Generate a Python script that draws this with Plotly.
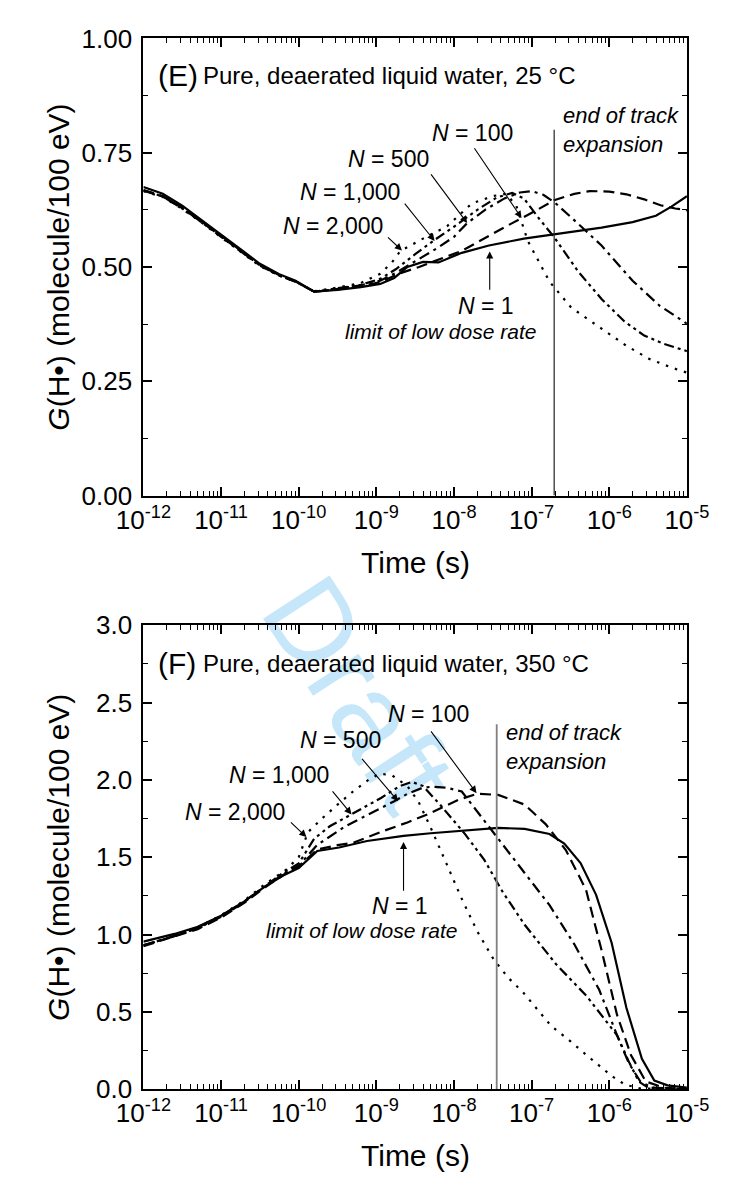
import plotly.graph_objects as go

# ---------------- data (log10 of time in s, G in molecule/100 eV) ----------------
series_names = ["N = 1", "N = 100", "N = 500", "N = 1,000", "N = 2,000"]
tick_exponents = [-12, -11, -10, -9, -8, -7, -6, -5]

# Panel E : 25 C
E_N1_logt = [-12.0, -11.75, -11.5, -11.25, -11.0, -10.75, -10.5, -10.25, -10.04, -9.8, -9.5, -9.2,
             -8.95, -8.77, -8.6, -8.4, -8.2, -7.9, -7.55, -7.1, -6.7, -6.1, -5.7, -5.4, -5.2, -5.0]
E_N1_G = [0.675, 0.660, 0.634, 0.603, 0.571, 0.539, 0.507, 0.484, 0.470, 0.446, 0.450, 0.456,
          0.463, 0.476, 0.500, 0.511, 0.510, 0.531, 0.547, 0.562, 0.571, 0.586, 0.598, 0.612, 0.632, 0.655]

E_N100_logt = [-12.0, -11.75, -11.5, -11.25, -11.0, -10.75, -10.5, -10.25, -10.04, -9.8, -9.5, -9.2,
               -8.95, -8.7, -8.45, -8.17, -7.9, -7.69, -7.45, -7.25, -6.97, -6.71, -6.45, -6.25,
               -6.0, -5.78, -5.55, -5.34, -5.15, -5.0]
E_N100_G = [0.668, 0.655, 0.630, 0.600, 0.568, 0.536, 0.505, 0.482, 0.468, 0.446, 0.451, 0.458,
            0.467, 0.486, 0.500, 0.518, 0.535, 0.555, 0.578, 0.596, 0.621, 0.646, 0.660, 0.666,
            0.665, 0.659, 0.648, 0.635, 0.628, 0.624]

E_N500_logt = [-12.0, -11.75, -11.5, -11.25, -11.0, -10.75, -10.5, -10.25, -10.04, -9.8, -9.5, -9.2,
               -8.95, -8.75, -8.5, -8.2, -8.0, -7.83, -7.6, -7.35, -7.15, -7.0, -6.85, -6.71,
               -6.5, -6.1, -5.7, -5.35, -5.0]
E_N500_G = [0.667, 0.654, 0.629, 0.599, 0.567, 0.535, 0.504, 0.482, 0.468, 0.446, 0.452, 0.460,
            0.470, 0.487, 0.512, 0.543, 0.566, 0.596, 0.625, 0.650, 0.663, 0.666, 0.658, 0.642,
            0.610, 0.547, 0.470, 0.415, 0.376]

E_N1000_logt = [-12.0, -11.75, -11.5, -11.25, -11.0, -10.75, -10.5, -10.25, -10.04, -9.8, -9.5, -9.2,
                -8.95, -8.75, -8.5, -8.26, -8.0, -7.7, -7.45, -7.25, -7.1, -6.9, -6.71, -6.4,
                -6.1, -5.8, -5.55, -5.3, -5.0]
E_N1000_G = [0.668, 0.654, 0.628, 0.598, 0.566, 0.534, 0.503, 0.481, 0.468, 0.446, 0.453, 0.461,
             0.474, 0.495, 0.528, 0.558, 0.588, 0.625, 0.652, 0.662, 0.650, 0.605, 0.565, 0.490,
             0.430, 0.380, 0.350, 0.332, 0.316]

E_N2000_logt = [-12.0, -11.75, -11.5, -11.25, -11.0, -10.75, -10.5, -10.25, -10.04, -9.8, -9.5, -9.2,
                -8.95, -8.8, -8.69, -8.4, -8.09, -7.77, -7.5, -7.33, -7.2, -7.05, -6.97, -6.77,
                -6.49, -6.13, -5.8, -5.5, -5.2, -5.0]
E_N2000_G = [0.666, 0.653, 0.627, 0.597, 0.565, 0.533, 0.502, 0.481, 0.468, 0.447, 0.455, 0.465,
             0.485, 0.510, 0.535, 0.562, 0.589, 0.639, 0.655, 0.660, 0.635, 0.557, 0.532, 0.468,
             0.411, 0.369, 0.330, 0.300, 0.280, 0.269]

E_track_end_logt = -6.71

# Panel F : 350 C
F_N1_logt = [-12.0, -11.6, -11.3, -11.0, -10.7, -10.45, -10.2, -10.0, -9.76, -9.48, -9.12, -8.65,
             -8.3, -7.89, -7.43, -7.09, -6.77, -6.58, -6.37, -6.17, -5.97, -5.78, -5.58, -5.42,
             -5.25, -5.0]
F_N1_G = [0.954, 1.004, 1.050, 1.122, 1.214, 1.305, 1.382, 1.430, 1.540, 1.563, 1.605, 1.638,
          1.655, 1.673, 1.690, 1.683, 1.650, 1.588, 1.462, 1.257, 0.947, 0.527, 0.196, 0.056,
          0.025, 0.010]

F_N100_logt = [-12.0, -11.6, -11.3, -11.0, -10.7, -10.45, -10.2, -10.0, -9.76, -9.5, -9.29, -8.89,
               -8.6, -8.34, -7.94, -7.70, -7.43, -7.09, -6.82, -6.56, -6.3, -6.1, -5.9, -5.72,
               -5.53, -5.3, -5.0]
F_N100_G = [0.925, 0.985, 1.035, 1.110, 1.205, 1.300, 1.385, 1.440, 1.550, 1.578, 1.595, 1.673,
            1.725, 1.777, 1.872, 1.910, 1.903, 1.840, 1.714, 1.546, 1.290, 0.900, 0.480, 0.220,
            0.050, 0.010, 0.0]

F_N500_logt = [-12.0, -11.6, -11.3, -11.0, -10.7, -10.45, -10.2, -10.0, -9.76, -9.4, -9.0, -8.77,
               -8.6, -8.4, -8.27, -8.1, -7.9, -7.61, -7.41, -7.09, -6.77, -6.45, -6.13, -5.9,
               -5.75, -5.6, -5.45, -5.0]
F_N500_G = [0.930, 0.990, 1.040, 1.115, 1.210, 1.305, 1.390, 1.445, 1.580, 1.700, 1.800, 1.862,
            1.910, 1.950, 1.956, 1.950, 1.925, 1.736, 1.610, 1.400, 1.190, 0.937, 0.643, 0.349,
            0.170, 0.050, 0.010, 0.0]

F_N1000_logt = [-12.0, -11.6, -11.3, -11.0, -10.7, -10.45, -10.2, -10.0, -9.8, -9.6, -9.33, -8.94,
                -8.7, -8.54, -8.4, -8.18, -7.86, -7.61, -7.37, -7.09, -6.69, -6.29, -5.9, -5.75,
                -5.62, -5.5, -5.0]
F_N1000_G = [0.930, 0.990, 1.045, 1.120, 1.215, 1.310, 1.400, 1.460, 1.620, 1.700, 1.777, 1.883,
             1.960, 1.987, 1.960, 1.840, 1.651, 1.483, 1.273, 1.063, 0.811, 0.601, 0.349, 0.180,
             0.050, 0.010, 0.0]

F_N2000_logt = [-12.0, -11.6, -11.3, -11.0, -10.7, -10.45, -10.16, -10.0, -9.88, -9.7, -9.5, -9.3,
                -9.1, -8.96, -8.8, -8.6, -8.46, -8.3, -8.1, -7.9, -7.7, -7.49, -7.3, -7.1, -6.75,
                -6.5, -6.3, -6.1, -5.97, -5.8, -5.6, -5.0]
F_N2000_G = [0.930, 0.990, 1.045, 1.125, 1.220, 1.320, 1.420, 1.500, 1.662, 1.750, 1.840, 1.925,
             2.000, 2.040, 2.030, 1.960, 1.862, 1.691, 1.462, 1.231, 1.020, 0.840, 0.720, 0.620,
             0.410, 0.310, 0.223, 0.140, 0.086, 0.030, 0.005, 0.0]

F_track_end_logt = -7.45

# ---------------- styling ----------------
FONT = "Liberation Sans, Arial, sans-serif"
dash_styles = ["solid", "11px,6px", "11px,5px,3px,5px", "10px,4px,3px,4px,3px,4px", "2.5px,7px"]

E_series = [(E_N1_logt, E_N1_G), (E_N100_logt, E_N100_G), (E_N500_logt, E_N500_G),
            (E_N1000_logt, E_N1000_G), (E_N2000_logt, E_N2000_G)]
F_series = [(F_N1_logt, F_N1_G), (F_N100_logt, F_N100_G), (F_N500_logt, F_N500_G),
            (F_N1000_logt, F_N1000_G), (F_N2000_logt, F_N2000_G)]

fig = go.Figure()

for (lt, g), name, dash in zip(E_series, series_names, dash_styles):
    fig.add_trace(go.Scatter(x=[10 ** v for v in lt], y=g, mode="lines", name=name,
                             line=dict(color="black", width=2.2, dash=dash),
                             xaxis="x", yaxis="y", showlegend=False))
for (lt, g), name, dash in zip(F_series, series_names, dash_styles):
    fig.add_trace(go.Scatter(x=[10 ** v for v in lt], y=g, mode="lines", name=name,
                             line=dict(color="black", width=2.2, dash=dash),
                             xaxis="x2", yaxis="y2", showlegend=False))

# end of track expansion lines
fig.add_trace(go.Scatter(x=[10 ** E_track_end_logt] * 2, y=[0, 0.80], mode="lines",
                         line=dict(color="#222222", width=1.2), xaxis="x", yaxis="y",
                         showlegend=False))
fig.add_trace(go.Scatter(x=[10 ** F_track_end_logt] * 2, y=[0, 2.36], mode="lines",
                         line=dict(color="#808080", width=1.8), xaxis="x2", yaxis="y2",
                         showlegend=False))

tickfont = dict(family=FONT, size=26, color="black")
minor_x = dict(ticks="inside", ticklen=5, tickwidth=1.3, tickcolor="black", dtick="D1",
               showgrid=False)
xcommon = dict(type="log", range=[-12, -5], tickvals=[10 ** e for e in tick_exponents],
               ticktext=["10<sup>%d</sup>" % e for e in tick_exponents],
               ticks="inside", ticklen=9, tickwidth=1.5, tickcolor="black",
               showline=True, linewidth=2, linecolor="black", mirror="ticks",
               showgrid=False, zeroline=False, tickfont=tickfont, minor=minor_x)
ycommon = dict(ticks="inside", ticklen=9, tickwidth=1.5, tickcolor="black",
               showline=True, linewidth=2, linecolor="black", mirror="ticks",
               showgrid=False, zeroline=False, tickfont=tickfont, ticklabelstandoff=4)

x0, x1 = 124 / 736, 708 / 736
fig.update_layout(
    width=736, height=1190,
    margin=dict(l=0, r=0, t=0, b=0),
    paper_bgcolor="white", plot_bgcolor="rgba(0,0,0,0)",
    xaxis=dict(domain=[x0, x1], anchor="y", **xcommon),
    yaxis=dict(domain=[1 - 493 / 1190, 1 - 24 / 1190], anchor="x", range=[0, 1],
               tickvals=[0, 0.25, 0.5, 0.75, 1.0], ticktext=["0.00", "0.25", "0.50", "0.75", "1.00"],
               minor=dict(ticks="inside", ticklen=5, tickwidth=1.3, tickcolor="black",
                          dtick=0.125, showgrid=False), **ycommon),
    xaxis2=dict(domain=[x0, x1], anchor="y2", **xcommon),
    yaxis2=dict(domain=[1 - 1102 / 1190, 1 - 626 / 1190], anchor="x2", range=[0, 3],
                tickvals=[0, 0.5, 1.0, 1.5, 2.0, 2.5, 3.0],
                ticktext=["0.0", "0.5", "1.0", "1.5", "2.0", "2.5", "3.0"],
                minor=dict(ticks="inside", ticklen=5, tickwidth=1.3, tickcolor="black",
                           dtick=0.25, showgrid=False), **ycommon),
)

# watermark, drawn beneath the curves
wm_cx, wm_cy = 366 / 736, 1 - 690 / 1190
fig.add_shape(type="rect", xref="paper", yref="paper", layer="below",
              x0=wm_cx - 0.2, x1=wm_cx + 0.2, y0=wm_cy - 0.12, y1=wm_cy + 0.12,
              line=dict(width=0), fillcolor="rgba(0,0,0,0)",
              label=dict(text="Draft", textangle=57, textposition="middle center",
                         font=dict(family=FONT, size=115, color="#c6e7fa")))

ann = []


def txt(x, y, text, size=22, xref="x", yref="y", italic=False, xanchor="center",
        yanchor="middle", align="center", angle=0, color="black"):
    t = "<i>%s</i>" % text if italic else text
    ann.append(dict(x=x, y=y, xref=xref, yref=yref, text=t, showarrow=False,
                    xanchor=xanchor, yanchor=yanchor, align=align, textangle=angle,
                    font=dict(family=FONT, size=size, color=color)))


def arrow(xh, yh, xt, yt, xref="x", yref="y"):
    ann.append(dict(x=xh, y=yh, ax=xt, ay=yt, xref=xref, yref=yref, axref=xref, ayref=yref,
                    text="", showarrow=True, arrowhead=2, arrowsize=1.3, arrowwidth=1.1,
                    arrowcolor="black", standoff=0, startstandoff=0))


# axis titles
ytitle = "<i>G</i>(H\u2022) (molecule/100 eV)"
txt(33 / 736, 1 - 258.5 / 1190, ytitle, size=30, xref="paper", yref="paper", angle=-90)
txt(33 / 736, 1 - 864 / 1190, ytitle, size=30, xref="paper", yref="paper", angle=-90)
txt(416 / 736, 1 - 562 / 1190, "Time (s)", size=30, xref="paper", yref="paper")
txt(416 / 736, 1 - 1170 / 1190, "Time (s)", size=30, xref="paper", yref="paper")

# panel E labels
txt(138 / 736, 1 - 62 / 1190, "(E)", size=30, xref="paper", yref="paper", xanchor="left")
txt(186 / 736, 1 - 62 / 1190, "Pure, deaerated liquid water, 25 \u00b0C", size=24,
    xref="paper", yref="paper", xanchor="left")
txt(-7.76, 0.793, "<i>N</i> = 100", size=23)
txt(-8.84, 0.737, "<i>N</i> = 500", size=23)
txt(-9.34, 0.663, "<i>N</i> = 1,000", size=23)
txt(-9.56, 0.589, "<i>N</i> = 2,000", size=23)
txt(-7.59, 0.414, "<i>N</i> = 1", size=23)
txt(-8.17, 0.358, "limit of low dose rate", size=21, italic=True)
txt(-6.62, 0.80, "end of track<br>expansion", size=22, italic=True, xanchor="left", align="left")
arrow(-7.13, 0.607, -7.75, 0.763)
arrow(-7.83, 0.596, -8.31, 0.706)
arrow(-8.25, 0.557, -8.65, 0.642)
arrow(-8.67, 0.536, -8.87, 0.568)
arrow(-7.54, 0.534, -7.54, 0.447)

# panel F labels
txt(138 / 736, 1 - 665.5 / 1190, "(F)", size=30, xref="paper", yref="paper", xanchor="left")
txt(186 / 736, 1 - 665.5 / 1190, "Pure, deaerated liquid water, 350 \u00b0C", size=24,
    xref="paper", yref="paper", xanchor="left")
txt(-8.33, 2.423, "<i>N</i> = 100", size=23, xref="x2", yref="y2")
txt(-9.46, 2.259, "<i>N</i> = 500", size=23, xref="x2", yref="y2")
txt(-10.26, 2.029, "<i>N</i> = 1,000", size=23, xref="x2", yref="y2")
txt(-10.82, 1.79, "<i>N</i> = 2,000", size=23, xref="x2", yref="y2")
txt(-8.70, 1.185, "<i>N</i> = 1", size=23, xref="x2", yref="y2")
txt(-9.19, 1.027, "limit of low dose rate", size=21, italic=True, xref="x2", yref="y2")
txt(-7.35, 2.21, "end of track<br>expansion", size=22, italic=True, xanchor="left",
    align="left", xref="x2", yref="y2")
arrow(-7.71, 1.914, -8.31, 2.323, "x2", "y2")
arrow(-8.72, 1.862, -9.20, 2.145, "x2", "y2")
arrow(-9.32, 1.777, -9.58, 1.935, "x2", "y2")
arrow(-9.90, 1.63, -10.12, 1.735, "x2", "y2")
arrow(-8.65, 1.599, -8.65, 1.273, "x2", "y2")

fig.update_layout(annotations=ann)
fig.write_html("out.html")
